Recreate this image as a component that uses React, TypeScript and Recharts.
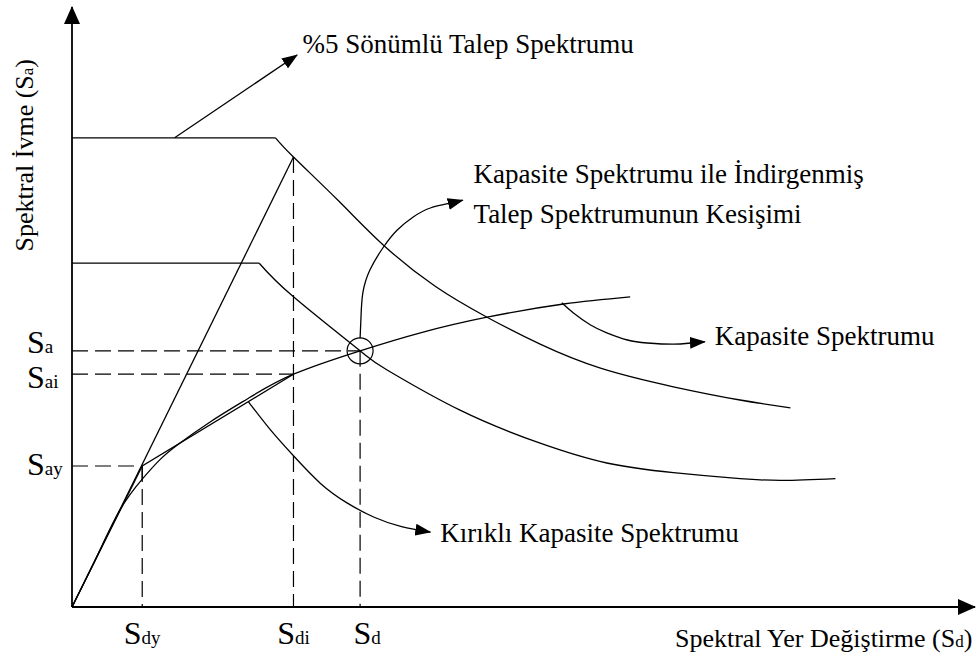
import React from 'react';
import { LineChart, Line, XAxis, YAxis, ReferenceLine, ReferenceDot } from 'recharts';

// schematic units: Sd on x (0..100), Sa on y (0..100)
const demand5Plateau = [{ x: 0, y: 78.2 }, { x: 22.6, y: 78.2 }];
const demand5Curve = [
  { x: 22.6, y: 78.2 }, { x: 24.6, y: 75.0 }, { x: 29.6, y: 67.7 }, { x: 34.6, y: 60.3 },
  { x: 40.3, y: 53.5 }, { x: 46.1, y: 48.3 }, { x: 52.0, y: 43.8 }, { x: 58.7, y: 39.8 },
  { x: 66.8, y: 36.7 }, { x: 74.2, y: 34.5 }, { x: 79.8, y: 33.2 },
];
const reducedPlateau = [{ x: 0, y: 57.3 }, { x: 20.8, y: 57.3 }];
const reducedCurve = [
  { x: 20.8, y: 57.3 }, { x: 24.6, y: 51.7 }, { x: 32.0, y: 42.7 }, { x: 35.0, y: 39.5 },
  { x: 43.1, y: 32.8 }, { x: 52.0, y: 27.3 }, { x: 59.4, y: 24.0 }, { x: 66.8, y: 22.4 },
  { x: 74.2, y: 21.4 }, { x: 79.0, y: 21.1 }, { x: 84.8, y: 21.4 },
];
const capacity = [
  { x: 0, y: 0 }, { x: 2.7, y: 8.2 }, { x: 5.3, y: 16.1 }, { x: 7.8, y: 21.3 }, { x: 9.8, y: 24.6 },
  { x: 11.7, y: 27.0 }, { x: 15.3, y: 30.8 }, { x: 19.6, y: 34.8 }, { x: 24.6, y: 38.8 },
  { x: 32.0, y: 42.7 }, { x: 38.7, y: 45.7 }, { x: 46.1, y: 48.3 }, { x: 54.6, y: 50.5 },
  { x: 62.0, y: 51.7 },
];
const bilinear = [{ x: 0, y: 0 }, { x: 7.8, y: 23.5 }, { x: 24.6, y: 38.8 }];
const elastic = [{ x: 0, y: 0 }, { x: 24.6, y: 75.0 }];

// annotation pointers
const arrowDemand = [{ x: 11.4, y: 78.2 }, { x: 25.0, y: 92.0 }];
const arrowIntersect = [
  { x: 32.0, y: 44.8 }, { x: 32.1, y: 48.3 }, { x: 32.3, y: 52.3 }, { x: 33.1, y: 56.2 },
  { x: 34.6, y: 60.0 }, { x: 36.1, y: 62.8 }, { x: 37.9, y: 65.0 }, { x: 39.8, y: 66.5 },
  { x: 42.0, y: 67.3 }, { x: 43.4, y: 67.8 },
];
const arrowCapacity = [
  { x: 54.4, y: 50.7 }, { x: 55.7, y: 49.0 }, { x: 57.6, y: 47.0 }, { x: 59.4, y: 45.7 },
  { x: 61.7, y: 44.5 }, { x: 63.9, y: 44.0 }, { x: 66.8, y: 43.8 }, { x: 68.7, y: 44.0 },
  { x: 70.3, y: 44.2 },
];
const arrowBilinear = [
  { x: 19.6, y: 34.2 }, { x: 22.0, y: 29.6 }, { x: 24.6, y: 25.2 }, { x: 27.6, y: 20.6 },
  { x: 30.5, y: 17.4 }, { x: 33.5, y: 15.0 }, { x: 36.6, y: 13.4 }, { x: 39.8, y: 12.5 },
];

const SDY = 7.8, SDI = 24.6, SD = 32.0;
const SAY = 23.5, SAI = 38.8, SA = 42.7;
const xTickValues = [SDY, SDI, SD];
const xTickSubs = ['dy', 'di', 'd'];
const yTickValues = [SAY, SAI, SA];
const yTickSubs = ['ay', 'ai', 'a'];

const noteTexts = [
  '%5 Sönümlü Talep Spektrumu',
  'Kapasite Spektrumu ile İndirgenmiş',
  'Talep Spektrumunun Kesişimi',
  'Kapasite Spektrumu',
  'Kırıklı Kapasite Spektrumu',
];
const notePos = [
  { x: 25.6, y: 92.3 }, { x: 44.6, y: 70.7 }, { x: 44.6, y: 64.0 },
  { x: 71.4, y: 43.7 }, { x: 40.9, y: 10.8 },
];

const FONT = '"Liberation Serif", "Times New Roman", serif';
const INK = '#000';
const xTickDx = [0, 0, 7];
const yTickDy = [9, 14, 2];

const XTick = (p: any) => {
  const i = xTickValues.indexOf(p.payload.value);
  return (
    <text x={p.x + xTickDx[i]} y={p.y + 37} textAnchor="middle" fontFamily={FONT} fill={INK}>
      <tspan fontSize={32}>S</tspan>
      <tspan fontSize={19}>{xTickSubs[i]}</tspan>
    </text>
  );
};

const YTick = (p: any) => {
  const i = yTickValues.indexOf(p.payload.value);
  return (
    <text x={p.x - 45} y={p.y + yTickDy[i]} textAnchor="start" fontFamily={FONT} fill={INK}>
      <tspan fontSize={32}>S</tspan>
      <tspan fontSize={19}>{yTickSubs[i]}</tspan>
    </text>
  );
};

const noteShape = (txt: string) => (p: any) => (
  <text x={p.cx} y={p.cy} textAnchor="start" fontFamily={FONT} fontSize={27} fill={INK}>
    {txt}
  </text>
);

const yTitle = (p: any) => (
  <text
    x={p.cx}
    y={p.cy}
    transform={`rotate(-90 ${p.cx} ${p.cy})`}
    textAnchor="middle"
    fontFamily={FONT}
    fontSize={26}
    fill={INK}
  >
    Spektral İvme (S<tspan fontSize={17}>a</tspan>)
  </text>
);

const xTitle = (p: any) => (
  <text x={p.cx} y={p.cy} textAnchor="end" fontFamily={FONT} fontSize={26} fill={INK}>
    Spektral Yer Değiştirme (S<tspan fontSize={17}>d</tspan>)
  </text>
);

const dash = '16 7';
const lineProps = {
  stroke: INK,
  strokeWidth: 1.3,
  dot: false,
  isAnimationActive: false,
  dataKey: 'y',
  legendType: 'none' as const,
};
const arrowEnd = { markerEnd: 'url(#headS)' } as any;

export default function App() {
  return (
    <div style={{ position: 'absolute', left: 0, top: 0, background: '#fff' }}>
      <LineChart width={976} height={655} margin={{ top: 7, right: 1, left: 0, bottom: 0 }}>
        <defs>
          <marker id="headS" markerWidth={16} markerHeight={12} refX={15} refY={6} orient="auto" markerUnits="userSpaceOnUse">
            <path d="M0,0 L16,6 L0,12 z" fill={INK} />
          </marker>
          <marker id="headAxis" markerWidth={18} markerHeight={16} refX={17} refY={8} orient="auto-start-reverse" markerUnits="userSpaceOnUse">
            <path d="M0,0 L18,8 L0,16 z" fill={INK} />
          </marker>
        </defs>
        <XAxis
          type="number"
          dataKey="x"
          domain={[0, 100.3]}
          ticks={xTickValues}
          tick={XTick}
          tickLine={false}
          tickSize={0}
          tickMargin={0}
          height={48}
          axisLine={{ stroke: INK, strokeWidth: 1.8, markerEnd: 'url(#headAxis)' } as any}
        />
        <YAxis
          type="number"
          domain={[0, 100]}
          ticks={yTickValues}
          tick={YTick}
          tickLine={false}
          tickSize={0}
          tickMargin={0}
          width={72}
          axisLine={{ stroke: INK, strokeWidth: 1.8, markerStart: 'url(#headAxis)' } as any}
        />

        <ReferenceLine segment={[{ x: 0, y: SAY }, { x: SDY, y: SAY }]} stroke={INK} strokeWidth={1.2} strokeDasharray={dash} />
        <ReferenceLine segment={[{ x: 0, y: SAI }, { x: SDI, y: SAI }]} stroke={INK} strokeWidth={1.2} strokeDasharray={dash} />
        <ReferenceLine segment={[{ x: 0, y: SA }, { x: SD, y: SA }]} stroke={INK} strokeWidth={1.2} strokeDasharray={dash} />
        <ReferenceLine segment={[{ x: SDY, y: SAY }, { x: SDY, y: 0 }]} stroke={INK} strokeWidth={1.2} strokeDasharray={dash} />
        <ReferenceLine segment={[{ x: SDY, y: SAY }, { x: SDY, y: 21.2 }]} stroke={INK} strokeWidth={1.2} />
        <ReferenceLine segment={[{ x: SDI, y: 75.0 }, { x: SDI, y: 0 }]} stroke={INK} strokeWidth={1.2} strokeDasharray={dash} />
        <ReferenceLine segment={[{ x: SD, y: SA }, { x: SD, y: 0 }]} stroke={INK} strokeWidth={1.2} strokeDasharray={dash} />

        <Line {...lineProps} data={demand5Plateau} type="linear" />
        <Line {...lineProps} data={demand5Curve} type="natural" />
        <Line {...lineProps} data={reducedPlateau} type="linear" />
        <Line {...lineProps} data={reducedCurve} type="natural" />
        <Line {...lineProps} data={capacity} type="natural" />
        <Line {...lineProps} data={bilinear} type="linear" />
        <Line {...lineProps} data={elastic} type="linear" />

        <Line {...lineProps} data={arrowDemand} type="linear" {...arrowEnd} />
        <Line {...lineProps} data={arrowIntersect} type="natural" {...arrowEnd} />
        <Line {...lineProps} data={arrowCapacity} type="natural" {...arrowEnd} />
        <Line {...lineProps} data={arrowBilinear} type="natural" {...arrowEnd} />

        <ReferenceDot x={SD} y={SA} r={13} fill="none" stroke={INK} strokeWidth={1.2} />

        {noteTexts.map((t, i) => (
          <ReferenceDot key={t} x={notePos[i].x} y={notePos[i].y} r={0} shape={noteShape(t)} ifOverflow="visible" />
        ))}
        <ReferenceDot x={-4.3} y={75.3} r={0} shape={yTitle} ifOverflow="visible" />
        <ReferenceDot x={100} y={-6.7} r={0} shape={xTitle} ifOverflow="visible" />
      </LineChart>
    </div>
  );
}
